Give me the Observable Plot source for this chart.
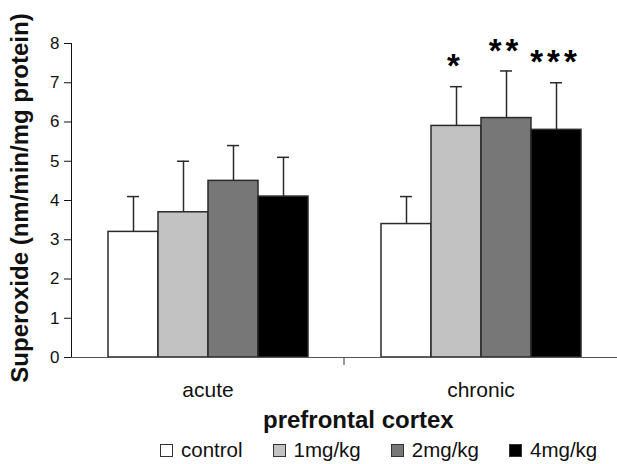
<!DOCTYPE html>
<html>
<head>
<meta charset="utf-8">
<script src="https://cdn.jsdelivr.net/npm/d3@7"></script>
<script src="https://cdn.jsdelivr.net/npm/@observablehq/plot@0.6"></script>
<style>
  body { margin: 0; background: #fff; font-family: "Liberation Sans", Arial, sans-serif; }
  #wrap { width: 617px; }
  #xtitle { font-weight: bold; font-size: 24px; line-height: 28px; padding-top: 6px; margin-left: 263px; white-space: nowrap; color: #111; }
  #legend { display: flex; margin-left: 160px; margin-top: 4px; font-size: 20.5px; line-height: 24px; color: #111; white-space: nowrap; }
  .item { display: flex; align-items: center; margin-right: 30px; }
  .sw { width: 13px; height: 13px; border: 1px solid #333; margin-right: 8px; box-sizing: border-box; }
</style>
</head>
<body>
<div id="wrap">
  <div id="chart"></div>
  <div id="xtitle"></div>
  <div id="legend"></div>
</div>
<script>
const groups = ["acute", "chronic"];
const treatments = ["control", "1mg/kg", "2mg/kg", "4mg/kg"];
const acuteMean = [3.2, 3.7, 4.5, 4.1];
const acuteErr = [0.9, 1.3, 0.9, 1.0];
const chronicMean = [3.4, 5.9, 6.1, 5.8];
const chronicErr = [0.7, 1.0, 1.2, 1.2];
const acuteSig = ["", "", "", ""];
const chronicSig = ["", "*", "**", "***"];
const colors = ["#ffffff", "#c2c2c2", "#777777", "#000000"];
const yTicks = [0, 1, 2, 3, 4, 5, 6, 7, 8];
const yLabel = "Superoxide (nm/min/mg protein)";
const xTitle = "prefrontal cortex";

const means = {acute: acuteMean, chronic: chronicMean};
const errs = {acute: acuteErr, chronic: chronicErr};
const sigs = {acute: acuteSig, chronic: chronicSig};
const data = groups.flatMap(g => treatments.map((t, i) => ({
  group: g, treatment: t, mean: means[g][i], top: means[g][i] + errs[g][i], sig: sigs[g][i]
})));

const plot = Plot.plot({
  width: 617,
  height: 400,
  marginLeft: 71,
  marginRight: 0,
  marginTop: 43,
  marginBottom: 43,
  style: {fontFamily: "Liberation Sans, Arial, sans-serif", fontSize: "17px", color: "#111", background: "#fff"},
  facet: {data, x: "group"},
  fx: {domain: groups, padding: 0, label: null},
  x: {domain: treatments, paddingInner: 0, paddingOuter: 0.73, axis: null},
  y: {domain: [0, 8], ticks: yTicks, tickSize: 7, tickPadding: 5, line: true, label: null},
  color: {domain: treatments, range: colors},
  marks: [
    Plot.axisFx({anchor: "bottom", tickSize: 0, tickPadding: 25, fontSize: 21, label: null}),
    Plot.barY(data, {x: "treatment", y: "mean", fill: "treatment", stroke: "#2a2a2a", strokeWidth: 1.5}),
    Plot.ruleX(data, {x: "treatment", y1: "mean", y2: "top", stroke: "#2a2a2a", strokeWidth: 1.5}),
    Plot.tickY(data, {x: "treatment", y: "top", stroke: "#2a2a2a", strokeWidth: 1.5, insetLeft: 19, insetRight: 19}),
    Plot.text(data, {x: "treatment", y: "top", text: "sig", dy: -20, fontSize: 33, fontWeight: "bold", fill: "#000"}),
    Plot.ruleY([0], {stroke: "#555", strokeWidth: 1.2})
  ]
});

const svg = d3.select(plot);
const fx = plot.scale("fx");
const y = plot.scale("y");
const bx = fx.apply("chronic");
svg.append("line")
  .attr("x1", bx).attr("x2", bx)
  .attr("y1", y.apply(0)).attr("y2", y.apply(0) + 8)
  .attr("stroke", "#555").attr("stroke-width", 1.2);
svg.append("text")
  .attr("transform", `translate(22,${(y.apply(0) + y.apply(8)) / 2 - 2}) rotate(-90)`)
  .attr("text-anchor", "middle")
  .attr("dominant-baseline", "middle")
  .attr("font-weight", "bold")
  .attr("font-size", 24)
  .attr("fill", "#111")
  .text(yLabel);
svg.selectAll("text").filter(function() { return /^\*+$/.test(this.textContent); })
  .attr("letter-spacing", "4px").attr("dx", "-1px");

document.getElementById("chart").appendChild(plot);
document.getElementById("xtitle").textContent = xTitle;
const leg = d3.select("#legend");
treatments.forEach((t, i) => {
  const it = leg.append("div").attr("class", "item");
  it.append("div").attr("class", "sw").style("background", colors[i]);
  it.append("span").text(t);
});
</script>
</body>
</html>
